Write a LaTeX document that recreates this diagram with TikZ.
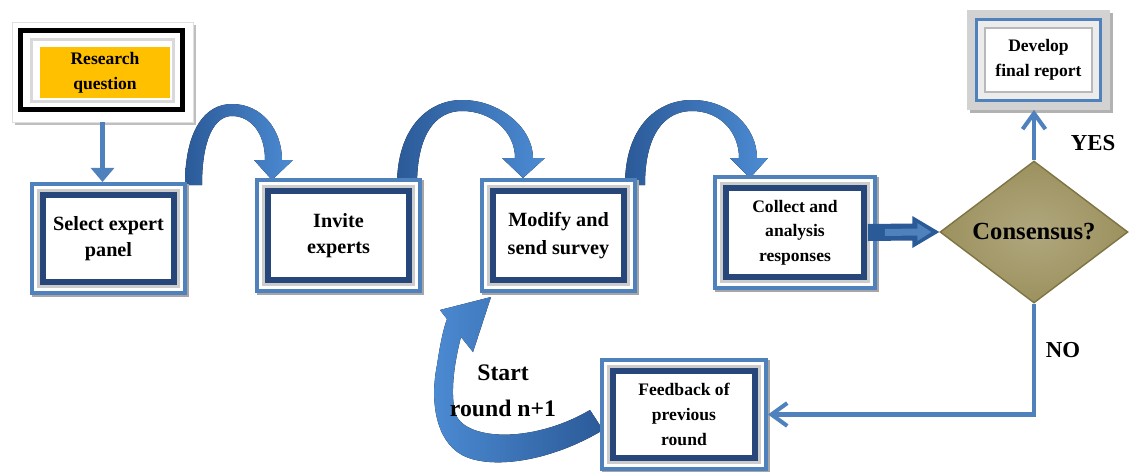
\documentclass[tikz,border=0pt]{standalone}
\usepackage{fontspec}
\setmainfont{Liberation Serif}
\usetikzlibrary{arrows.meta,shapes.geometric,calc}
\definecolor{bfr}{HTML}{4F81BD}
\definecolor{navy}{HTML}{27477A}
\definecolor{arcdark}{HTML}{2B5A98}
\definecolor{arclight}{HTML}{4C8BD3}
\definecolor{olivefill}{HTML}{9C915E}
\definecolor{olivedark}{HTML}{7D7444}
\definecolor{rqorange}{HTML}{FFC000}
\begin{document}
\begin{tikzpicture}[x=0.02cm,y=-0.02cm,
  panel/.style={draw=navy, line width=3.2pt, fill=white, inner sep=0pt, align=center, outer sep=7.4pt,
    preaction={draw=black!35, line width=14.8pt, transform canvas={shift={(1.2pt,-1.2pt)}}},
    preaction={draw=bfr, line width=14.8pt},
    preaction={draw=white, line width=10.4pt},
    preaction={draw=gray!40, line width=6.8pt},
    font=\bfseries\fontsize{11.5}{15}\selectfont},
  smalltext/.style={font=\bfseries\fontsize{10}{14}\selectfont},
  reportbox/.style={draw=gray!55, line width=1.2pt, fill=white, inner sep=0pt, align=center, outer sep=10.2pt,
    preaction={draw=black!30, line width=20.5pt, transform canvas={shift={(1.5pt,-1.5pt)}}},
    preaction={draw=gray!35, line width=20.5pt},
    preaction={draw=bfr, line width=11.4pt},
    preaction={draw=gray!15, line width=8pt},
    font=\bfseries\fontsize{10}{14}\selectfont},
  conn/.style={draw=bfr, line width=2.3pt},
  barb/.style={-{Straight Barb[length=9pt,width=13pt]}},
  arcshade/.style={left color=arcdark, right color=arclight},
  label/.style={font=\bfseries\fontsize{13}{15}\selectfont}
]
\useasboundingbox (0,0) rectangle (1130,471);
\fill[white] (0,0) rectangle (1130,471);

% arched arrows
\fill[arcshade] (185,185) .. controls (185,130) and (205,104) .. (232,104)
  .. controls (262,104) and (282,130) .. (282,160) -- (293,160) -- (272,180) -- (254,160) -- (265,160)
  .. controls (265,132) and (250,116) .. (232,116) .. controls (214,116) and (202,140) .. (202,185) -- cycle;
\fill[arcshade] (397,185) .. controls (397,128) and (428,100) .. (462,100)
  .. controls (500,100) and (533,128) .. (533,158) -- (545,158) -- (523,178) -- (502,158) -- (515,158)
  .. controls (515,132) and (492,111) .. (462,111) .. controls (435,111) and (417,135) .. (417,185) -- cycle;
\fill[arcshade] (625,185) .. controls (625,128) and (656,100) .. (692,100)
  .. controls (730,100) and (757,128) .. (757,158) -- (768,158) -- (750,178) -- (730,158) -- (739,158)
  .. controls (739,132) and (720,111) .. (692,111) .. controls (664,111) and (645,135) .. (645,185) -- cycle;

% loop-back arrow
\fill[left color=arclight, right color=arcdark]
  (603,430) .. controls (550,462) and (490,470) .. (462,455)
  .. controls (435,440) and (430,400) .. (437,365)
  .. controls (440,345) and (443,330) .. (447,319)
  -- (440,310) -- (491,297) -- (473,352) -- (461,337)
  .. controls (455,360) and (450,390) .. (455,412)
  .. controls (462,440) and (530,445) .. (590,410) -- cycle;

% research question
\node[fill=white, draw=gray!25, line width=0.4pt, minimum width=3.62cm, minimum height=2.0cm,
  preaction={fill=black!25, transform canvas={shift={(1.5pt,-1.5pt)}}}] (rqframe) at (102.5,72) {};
\draw[black, line width=2.8pt] (20.5,30.5) rectangle (182.5,109.5);
\draw[gray!30, line width=1.7pt] (31.5,39.5) rectangle (173.5,101.5);
\node[fill=rqorange, minimum width=2.6cm, minimum height=1.02cm, inner sep=0pt, align=center, smalltext] (rq) at (105,72.5) {Research\\question};

% process boxes
\node[panel, minimum width=2.62cm, minimum height=1.74cm] (select) at (108.5,238.5) {Select expert\\panel};
\node[panel, minimum width=2.82cm, minimum height=1.78cm] (invite) at (338.5,235.5) {Invite\\experts};
\node[panel, minimum width=2.62cm, minimum height=1.78cm, font=\bfseries\fontsize{11.5}{16}\selectfont] (modify) at (558.5,235.5) {Modify and\\send survey};
\node[panel, minimum width=2.76cm, minimum height=1.78cm, smalltext] (collect) at (795,232.5) {Collect and\\analysis\\responses};
\node[panel, minimum width=2.84cm, minimum height=1.74cm, smalltext] (feedback) at (684,414.5) {Feedback of\\previous\\round};

% decision
\node[diamond, inner color=olivefill!80!white, outer color=olivefill, draw=olivedark, line width=0.8pt,
  minimum width=3.76cm, minimum height=2.84cm, inner sep=0pt,
  font=\bfseries\fontsize{14}{16}\selectfont] (cons) at (1034,232) {Consensus?};

% report
\node[reportbox, minimum width=2.14cm, minimum height=1.28cm] (report) at (1038.5,60) {Develop\\final report};

% connectors
\draw[conn, -{Triangle[length=8pt,width=13pt]}] (rqframe.south) -- (rqframe.south |- select.north);
\draw[conn, barb] (cons.north) -- (cons.north |- report.south);
\draw[conn, barb] (cons.south) |- (feedback.east);

% block arrow collect -> consensus
\fill[arcdark] ($(collect.east)+(-9,-8.5)$) -- ($(cons.west)+(-27,-8.5)$) -- ($(cons.west)+(-27,-16)$)
  -- (cons.west) -- ($(cons.west)+(-27,16)$) -- ($(cons.west)+(-27,8.5)$) -- ($(collect.east)+(-9,8.5)$) -- cycle;
\fill[bfr] ($(collect.east)+(8,-3.5)$) -- ($(cons.west)+(-22,-3.5)$) -- ($(cons.west)+(-22,-9)$)
  -- ($(cons.west)+(-8,0)$) -- ($(cons.west)+(-22,9)$) -- ($(cons.west)+(-22,3.5)$) -- ($(collect.east)+(8,3.5)$) -- cycle;

% labels
\node[label] (yes) at (1093,143) {YES};
\node[label] (no) at (1063,350) {NO};
\node[label, align=center, font=\bfseries\fontsize{13.5}{20.5}\selectfont] (start) at (503,391) {Start\\round n+1};
\end{tikzpicture}
\end{document}
